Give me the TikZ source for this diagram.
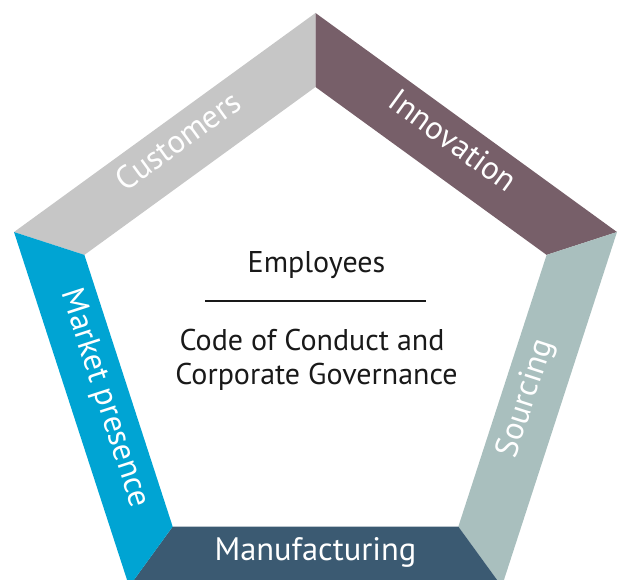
\documentclass[tikz,border=0pt]{standalone}
\usepackage{fontspec}
\setmainfont{PT Sans}
\usetikzlibrary{calc}
\definecolor{custgrey}{HTML}{C6C6C6}
\definecolor{innomauve}{HTML}{775F69}
\definecolor{sourcegreen}{HTML}{A9BFBE}
\definecolor{manublue}{HTML}{3B5A72}
\definecolor{marketcyan}{HTML}{00A4D3}
\begin{document}
\begin{tikzpicture}[x=1pt,y=1pt,
    bandtext/.style={text=white,inner sep=0pt,text height=0.7em,text depth=0pt,
      font=\fontsize{32.5}{33}\selectfont},
    centertext/.style={text=black!90,inner sep=0pt,anchor=base,font=\fontsize{30}{36}\selectfont}]
  \useasboundingbox (0,0) rectangle (624,579);
  \clip (0,0) rectangle (624,579);
  \coordinate (c) at (315.5,249);
  \foreach \a/\col/\txt/\rot/\nm in {90/custgrey/Customers/36/cust,
      18/innomauve/Innovation/-36/inno,
      -54/sourcegreen/Sourcing/72/sour,
      -126/manublue/Manufacturing/0/manu,
      162/marketcyan/Market presence/-72/mark} {
    \fill[\col] ($(c)+(\a:317)$) -- ($(c)+({\a+72}:317)$)
      -- ($(c)+({\a+72}:243)$) -- ($(c)+(\a:243)$) -- cycle;
    \node[bandtext,rotate=\rot] (\nm) at ($(c)+({\a+36}:226.5)$) {\txt};
  }
  \node[centertext] (empl) at (316.5,306) {Employees};
  \coordinate (rulel) at (205,278);
  \coordinate (ruler) at (426,278);
  \draw[line width=2pt,black!90] (rulel) -- (ruler);
  \node[centertext] (code) at (312,228) {Code of Conduct and};
  \node[centertext] (gov) at (316.5,194) {Corporate Governance};
\end{tikzpicture}
\end{document}
